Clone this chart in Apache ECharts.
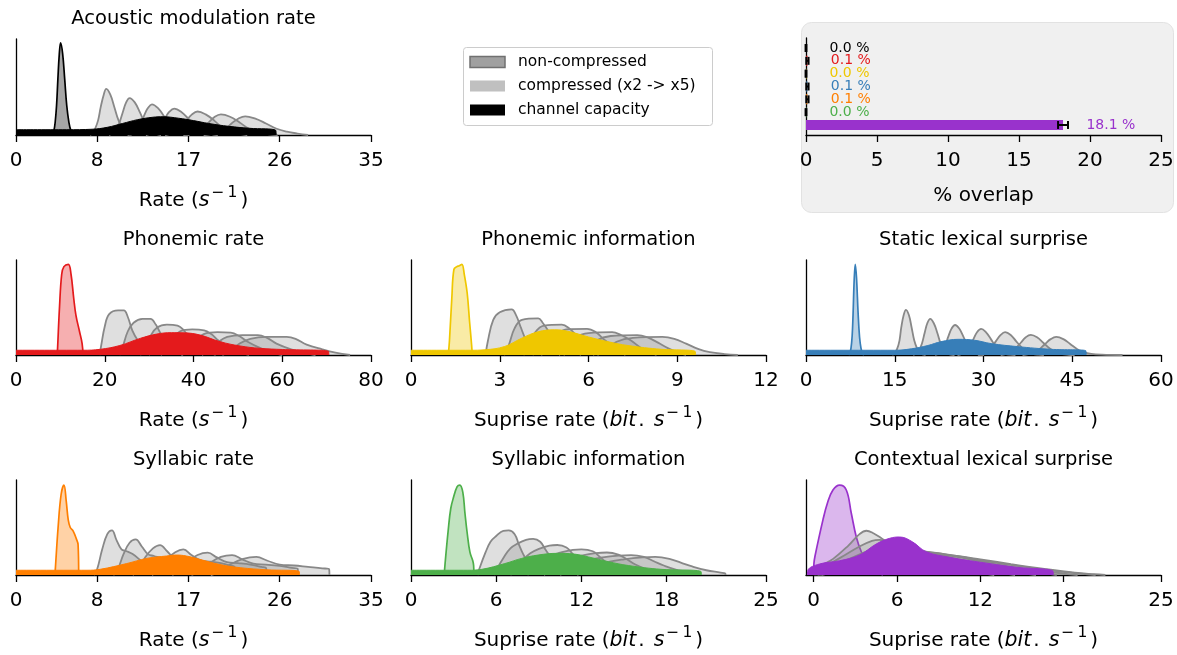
<!DOCTYPE html>
<html>
<head>
<meta charset="utf-8">
<script src="https://cdn.jsdelivr.net/npm/echarts@6/dist/echarts.min.js"></script>
<style>
html, body { margin: 0; padding: 0; background: #fff; }
#main { width: 1177px; height: 655px; }
</style>
</head>
<body>
<div id="main"></div>
<script>
// ---- data (x in axis units, y = density scaled to spine height) ----
// acoustic modulation rate
var acNon = [[3.45,0],[3.6,0.01],[3.73,0.04],[3.86,0.13],[4.0,0.31],[4.13,0.585],[4.27,0.845],[4.4,0.96],[4.6,0.845],[4.8,0.585],[5.0,0.31],[5.22,0.13],[5.43,0.04],[5.63,0.01],[5.8,0]];
var acComp = [
    [[7.3,0],[7.55,0.02],[7.8,0.065],[8.1,0.155],[8.35,0.29],[8.65,0.42],[8.9,0.48],[9.3,0.42],[9.7,0.29],[10.1,0.155],[10.55,0.065],[10.95,0.02],[11.4,0]],
    [[9.16,0],[9.5,0.017],[9.84,0.052],[10.18,0.123],[10.52,0.235],[10.86,0.34],[11.2,0.385],[11.71,0.34],[12.22,0.235],[12.73,0.123],[13.24,0.052],[13.75,0.017],[14.3,0]],
    [[11.0,0],[11.4,0.014],[11.8,0.043],[12.2,0.1],[12.6,0.195],[13.0,0.28],[13.4,0.32],[14.0,0.28],[14.6,0.195],[15.25,0.1],[15.85,0.043],[16.5,0.014],[17.1,0]],
    [[12.8,0],[13.2,0.012],[13.7,0.037],[14.2,0.086],[14.65,0.168],[15.1,0.24],[15.6,0.275],[16.3,0.24],[17.0,0.168],[17.75,0.086],[18.45,0.037],[19.2,0.012],[19.9,0]],
    [[14.7,0],[15.2,0.011],[15.75,0.033],[16.3,0.076],[16.8,0.15],[17.35,0.215],[17.9,0.245],[18.7,0.215],[19.55,0.15],[20.35,0.076],[21.2,0.033],[22.0,0.011],[22.8,0]],
    [[16.5,0],[17.15,0.009],[17.75,0.029],[18.35,0.067],[19.0,0.13],[19.6,0.19],[20.2,0.215],[21.1,0.19],[22.05,0.13],[22.95,0.067],[23.9,0.029],[24.8,0.009],[25.8,0]],
    [[18.5,0],[19.2,0.009],[19.9,0.026],[20.6,0.06],[21.25,0.12],[21.9,0.17],[22.6,0.195],[23.6,0.17],[24.65,0.12],[25.7,0.065],[26.7,0.035],[27.75,0.015],[28.8,0]]
];
var acCap = [[0,0.055],[5,0.055],[7.5,0.06],[9,0.08],[10.5,0.12],[12,0.16],[13.5,0.185],[14.5,0.19],[16,0.175],[17.5,0.15],[19,0.12],[21,0.09],[23,0.07],[25.6,0.05],[25.65,0]];
var acTicks = [0, 8, 17, 26, 35];

// phonemic rate
var prNon = [[9.3,0],[9.4,0.1],[9.8,0.5],[10.3,0.85],[10.8,0.93],[11.8,0.955],[12.4,0.85],[13,0.6],[13.5,0.42],[14.3,0.25],[14.9,0.12],[15.1,0]];
var prComp = [
    [[18.8,0],[19.2,0.1],[20,0.3],[21,0.43],[23,0.47],[24.3,0.47],[25.2,0.4],[26.2,0.26],[27.5,0.15],[29,0.07],[30.2,0]],
    [[23.3,0],[24,0.08],[25.2,0.25],[26.5,0.34],[28.5,0.38],[30.3,0.38],[31.5,0.32],[32.7,0.22],[34.5,0.12],[36,0.05],[37.7,0]],
    [[28,0],[29,0.07],[30.3,0.2],[31.8,0.29],[34,0.32],[36.4,0.31],[37.8,0.26],[39.2,0.18],[41.4,0.1],[43.2,0.04],[45,0]],
    [[32.6,0],[33.8,0.06],[35.3,0.17],[37,0.25],[39.7,0.27],[42.4,0.26],[44,0.22],[45.7,0.15],[48.3,0.08],[50.4,0.03],[52.5,0]],
    [[37.2,0],[38.6,0.05],[40.3,0.15],[42.3,0.22],[45.4,0.24],[48.4,0.235],[50.3,0.2],[52.2,0.14],[55.2,0.07],[57.6,0.03],[60,0]],
    [[41.9,0],[43.4,0.05],[45.4,0.13],[47.6,0.19],[51,0.21],[54.5,0.21],[56.6,0.18],[58.7,0.12],[62,0.06],[64.8,0.025],[67.5,0]],
    [[46.5,0],[48.2,0.04],[50.4,0.12],[52.8,0.17],[56.5,0.19],[61,0.19],[63,0.17],[65.5,0.11],[69,0.06],[72,0.025],[75.3,0]]
];
var prCap = [[0,0.05],[15,0.05],[19,0.06],[23.4,0.1],[28,0.175],[31.7,0.22],[35,0.235],[38,0.233],[41.5,0.21],[46,0.14],[50.5,0.095],[55,0.07],[60,0.058],[70.4,0.04],[70.5,0]];
var prTicks = [0, 20, 40, 60, 80];

// phonemic information
var piNon = [[1.26,0],[1.3,0.15],[1.38,0.6],[1.45,0.9],[1.55,0.93],[1.63,0.94],[1.72,0.955],[1.8,0.85],[1.9,0.65],[1.98,0.35],[2.05,0.1],[2.07,0]];
var piComp = [
    [[2.52,0],[2.6,0.15],[2.78,0.37],[3.0,0.45],[3.4,0.48],[3.55,0.42],[3.7,0.3],[3.85,0.18],[4.0,0.07],[4.15,0]],
    [[3.15,0],[3.3,0.1],[3.5,0.28],[3.75,0.37],[4.3,0.385],[4.45,0.34],[4.65,0.25],[4.85,0.14],[5.0,0.07],[5.2,0]],
    [[3.8,0],[3.95,0.08],[4.2,0.24],[4.5,0.31],[5.1,0.32],[5.35,0.28],[5.6,0.2],[5.85,0.11],[6.0,0.06],[6.2,0]],
    [[4.4,0],[4.6,0.07],[4.9,0.2],[5.25,0.27],[5.95,0.275],[6.25,0.24],[6.5,0.17],[6.8,0.1],[7.0,0.05],[7.25,0]],
    [[5.0,0],[5.2,0.06],[5.55,0.18],[6.0,0.23],[6.8,0.24],[7.1,0.21],[7.45,0.15],[7.75,0.08],[8.0,0.04],[8.3,0]],
    [[5.7,0],[5.9,0.05],[6.25,0.15],[6.75,0.2],[7.65,0.21],[8.0,0.185],[8.35,0.13],[8.7,0.07],[9.0,0.03],[9.3,0]],
    [[6.3,0],[6.55,0.05],[6.95,0.14],[7.5,0.18],[8.5,0.19],[8.9,0.17],[9.3,0.12],[9.7,0.065],[10.1,0.03],[10.6,0.01],[11.05,0]]
];
var piCap = [[0,0.05],[2,0.05],[2.5,0.055],[3.17,0.09],[3.73,0.175],[4.3,0.245],[4.86,0.265],[5.3,0.25],[6,0.19],[6.66,0.14],[7.33,0.1],[8.46,0.06],[9.6,0.04],[9.62,0]];
var piTicks = [0, 3, 6, 9, 12];

// static lexical surprise
var slNon = [[7.2,0],[7.4,0.02],[7.6,0.07],[7.8,0.2],[7.95,0.42],[8.15,0.8],[8.33,0.955],[8.55,0.8],[8.8,0.45],[9.05,0.19],[9.3,0.07],[9.55,0.015],[9.8,0]];
var slComp = [
    [[14.6,0],[15.0,0.021],[15.4,0.064],[15.8,0.152],[16.1,0.29],[16.5,0.418],[16.9,0.475],[17.4,0.418],[17.85,0.29],[18.3,0.152],[18.8,0.064],[19.25,0.021],[19.7,0.005],[20.2,0]],
    [[18.1,0],[18.6,0.017],[19.1,0.051],[19.6,0.122],[20.05,0.232],[20.5,0.334],[21.0,0.38],[21.6,0.334],[22.2,0.232],[22.75,0.122],[23.35,0.051],[23.95,0.017],[24.5,0.004],[25.1,0]],
    [[21.8,0],[22.35,0.014],[22.9,0.043],[23.5,0.1],[24.05,0.193],[24.6,0.278],[25.2,0.316],[25.9,0.278],[26.6,0.193],[27.3,0.1],[28.0,0.043],[28.7,0.014],[29.4,0.003],[30.1,0]],
    [[25.6,0],[26.3,0.012],[26.95,0.037],[27.6,0.087],[28.3,0.167],[28.9,0.24],[29.6,0.274],[30.4,0.24],[31.25,0.167],[32.1,0.087],[32.9,0.037],[33.7,0.012],[34.55,0.003],[35.4,0]],
    [[29.1,0],[29.85,0.011],[30.6,0.032],[31.4,0.077],[32.1,0.146],[32.9,0.211],[33.65,0.24],[34.6,0.211],[35.5,0.146],[36.5,0.077],[37.4,0.032],[38.35,0.011],[39.3,0.003],[40.2,0]],
    [[32.9,0],[33.7,0.009],[34.6,0.029],[35.4,0.068],[36.3,0.129],[37.15,0.187],[38.0,0.212],[39.05,0.187],[40.1,0.129],[41.2,0.068],[42.25,0.029],[43.3,0.009],[44.4,0.002],[45.4,0]],
    [[36.6,0],[37.55,0.008],[38.5,0.026],[39.45,0.061],[40.4,0.116],[41.35,0.167],[42.3,0.19],[43.5,0.167],[44.65,0.116],[45.85,0.061],[47.0,0.028],[48.2,0.012],[50.0,0.004],[53.5,0]]
];
var slCap = [[0,0.05],[15,0.05],[17.8,0.065],[20.6,0.1],[22.8,0.14],[25.7,0.165],[28.5,0.155],[31.3,0.12],[35.8,0.088],[41.4,0.06],[47.3,0.045],[47.35,0]];
var slTicks = [0, 15, 30, 45, 60];

// syllabic rate
var srNon = [[3.84,0],[3.9,0.1],[4.15,0.5],[4.45,0.85],[4.73,0.947],[4.95,0.78],[5.15,0.58],[5.35,0.5],[5.65,0.46],[5.95,0.38],[6.12,0.32],[6.18,0]];
var srComp = [
    [[7.7,0],[8.0,0.06],[8.5,0.27],[9.0,0.43],[9.46,0.47],[9.9,0.37],[10.4,0.27],[10.9,0.25],[11.5,0.22],[12.1,0.17],[12.33,0.14],[12.36,0]],
    [[9.6,0],[10,0.05],[10.6,0.22],[11.2,0.34],[11.8,0.375],[12.4,0.3],[13,0.22],[13.6,0.2],[14.4,0.175],[15.1,0.14],[15.42,0.11],[15.45,0]],
    [[11.5,0],[12,0.05],[12.7,0.18],[13.5,0.28],[14.2,0.315],[14.9,0.25],[15.6,0.18],[16.4,0.165],[17.3,0.145],[18.1,0.115],[18.51,0.09],[18.54,0]],
    [[13.4,0],[14,0.04],[14.8,0.16],[15.7,0.24],[16.5,0.27],[17.3,0.21],[18.2,0.155],[19.2,0.14],[20.2,0.125],[21.1,0.1],[21.57,0.08],[21.6,0]],
    [[15.4,0],[16,0.04],[16.9,0.14],[17.9,0.21],[18.9,0.235],[19.8,0.185],[20.8,0.135],[21.9,0.125],[23.1,0.11],[24.2,0.085],[24.67,0.07],[24.7,0]],
    [[17.3,0],[18,0.035],[19,0.12],[20.2,0.19],[21.3,0.21],[22.3,0.165],[23.4,0.12],[24.6,0.11],[26,0.095],[27.2,0.075],[27.77,0.065],[27.8,0]],
    [[19.2,0],[20,0.03],[21.1,0.11],[22.4,0.17],[23.7,0.19],[24.8,0.15],[26,0.11],[27.4,0.1],[28.8,0.085],[30.2,0.07],[30.87,0.06],[30.9,0]]
];
var srCap = [[0,0.05],[7,0.05],[8.3,0.06],[10.9,0.12],[12.9,0.175],[14.85,0.2],[15.8,0.21],[16.8,0.2],[18.1,0.165],[20.1,0.11],[22.1,0.077],[24.7,0.055],[27.9,0.04],[27.95,0]];
var srTicks = [0, 8, 17, 26, 35];

// syllabic information
var siNon = [[2.34,0],[2.4,0.12],[2.62,0.47],[2.8,0.7],[3.0,0.82],[3.25,0.93],[3.44,0.947],[3.65,0.87],[3.8,0.65],[3.95,0.45],[4.15,0.24],[4.35,0.15],[4.41,0.1],[4.43,0]];
var siComp = [
    [[4.68,0],[4.8,0.06],[5.24,0.235],[5.6,0.35],[6.0,0.41],[6.5,0.465],[6.88,0.47],[7.3,0.43],[7.6,0.32],[7.9,0.22],[8.3,0.12],[8.7,0.07],[8.84,0.05],[8.86,0]],
    [[5.85,0],[6,0.05],[6.55,0.19],[7,0.28],[7.5,0.33],[8.1,0.37],[8.6,0.38],[9.1,0.35],[9.5,0.26],[9.9,0.18],[10.4,0.1],[10.9,0.06],[11.08,0.04],[11.1,0]],
    [[7.0,0],[7.2,0.04],[7.9,0.16],[8.4,0.23],[9,0.275],[9.75,0.31],[10.3,0.316],[10.95,0.29],[11.4,0.22],[11.85,0.15],[12.45,0.08],[13.05,0.05],[13.28,0.035],[13.3,0]],
    [[8.2,0],[8.4,0.035],[9.2,0.135],[9.8,0.2],[10.5,0.235],[11.4,0.265],[12.0,0.27],[12.8,0.25],[13.3,0.19],[13.8,0.13],[14.5,0.07],[15.2,0.04],[15.48,0.03],[15.5,0]],
    [[9.36,0],[9.6,0.03],[10.5,0.12],[11.2,0.175],[12,0.205],[13,0.23],[13.8,0.237],[14.6,0.215],[15.2,0.165],[15.8,0.11],[16.6,0.06],[17.4,0.035],[17.68,0.025],[17.7,0]],
    [[10.5,0],[10.8,0.03],[11.8,0.105],[12.6,0.155],[13.5,0.185],[14.6,0.205],[15.5,0.21],[16.4,0.19],[17.1,0.145],[17.8,0.1],[18.7,0.055],[19.6,0.03],[19.88,0.02],[19.9,0]],
    [[11.7,0],[12,0.025],[13.1,0.095],[14,0.14],[15,0.165],[16.3,0.185],[17.2,0.19],[18.2,0.17],[19,0.13],[19.8,0.09],[20.8,0.05],[21.8,0.025],[22.13,0.015],[22.15,0]]
];
var siCap = [[0,0.05],[4,0.05],[5,0.06],[6.6,0.12],[7.8,0.175],[8.95,0.21],[10.3,0.228],[11.5,0.22],[12.5,0.19],[13.9,0.14],[15.3,0.1],[17.6,0.06],[20.4,0.04],[20.45,0]];
var siTicks = [0, 6, 12, 18, 25];

// contextual lexical surprise
var clNon = [[0,0],[0.02,0.12],[0.1,0.2],[0.67,0.58],[1.0,0.76],[1.39,0.895],[1.87,0.947],[2.35,0.895],[2.71,0.65],[3.07,0.4],[3.43,0.245],[3.9,0.12],[4.4,0.04],[5,0]];
var clComp = [
    [[0,0],[0.4,0.08],[1.4,0.17],[2.5,0.31],[3.3,0.43],[3.8,0.466],[4.3,0.44],[4.9,0.385],[5.8,0.3],[7,0.2],[8.5,0.12],[10,0.06],[12,0.02],[13,0]],
    [[0.1,0],[0.6,0.07],[1.9,0.18],[3.3,0.3],[4.2,0.36],[4.75,0.37],[5.4,0.35],[6.2,0.3],[7.3,0.22],[8.8,0.15],[10.6,0.09],[12.6,0.04],[14.5,0]],
    [[0.2,0],[0.8,0.06],[2.4,0.16],[4,0.26],[5,0.31],[5.6,0.32],[6.4,0.3],[7.3,0.26],[8.6,0.2],[10.3,0.13],[12.5,0.07],[14.5,0.03],[16,0]],
    [[0.3,0],[1,0.05],[2.8,0.14],[4.6,0.23],[5.8,0.27],[6.5,0.28],[7.4,0.265],[8.5,0.23],[10,0.18],[12,0.115],[14.5,0.055],[16.5,0.02],[17.5,0]],
    [[0.4,0],[1.2,0.045],[3.2,0.12],[5.2,0.2],[6.6,0.24],[7.4,0.25],[8.4,0.24],[9.7,0.21],[11.4,0.16],[13.6,0.1],[16,0.05],[18,0.015],[19,0]],
    [[0.5,0],[1.4,0.04],[3.6,0.11],[5.8,0.18],[7.4,0.225],[8.3,0.235],[9.4,0.22],[10.9,0.185],[12.8,0.135],[15.2,0.085],[17.5,0.04],[19.4,0.012],[20.3,0]],
    [[0.6,0],[1.6,0.035],[4,0.1],[6.4,0.165],[8.1,0.2],[9.1,0.21],[10.3,0.2],[12,0.165],[14.2,0.115],[16.6,0.065],[18.8,0.025],[20.2,0.008],[21,0]]
];
var clCap = [[-0.45,0],[-0.42,0.05],[0.43,0.116],[1.87,0.15],[3.3,0.21],[4.5,0.326],[5.47,0.386],[6.19,0.4],[7.1,0.35],[8.1,0.245],[9.8,0.186],[12.2,0.13],[14.7,0.08],[17.2,0.045],[17.25,0]];
var clTicks = [0, 6, 12, 18, 25];

// % overlap (top right)
var overlapVals = [0.0, 0.1, 0.0, 0.1, 0.1, 0.0, 18.1];
var overlapErr = [0.03, 0.08, 0.03, 0.08, 0.08, 0.03, 0.35];
var overlapTicks = [0, 5, 10, 15, 20, 25];

var legendLabels = ['non-compressed', 'compressed (x2 -> x5)', 'channel capacity'];

// ---- chart ----
var FONT = 'DejaVu Sans';
var rateName = 'Rate ({i|s}{sup|\u2212\u20091})';
var surpName = 'Suprise rate ({i|bit}{d|.}{i|s}{sup|\u2212\u20091})';
var nameRich = {
    i: { fontStyle: 'italic', fontSize: 20.5, fontFamily: FONT, color: '#000', padding: [0, 1, 0, 0] },
    d: { fontSize: 20, fontFamily: FONT, color: '#000', padding: [0, 9, 0, 1] },
    sup: { fontSize: 15.5, fontFamily: FONT, color: '#000', padding: [0, 3, 15, 1] }
};

var panels = [
    { title: 'Acoustic modulation rate', color: '#000000', non: acNon, comp: acComp, cap: acCap, ticks: acTicks, min: 0, max: 35, name: rateName, left: 16, top: 39, height: 96 },
    { title: 'Phonemic rate', color: '#e41a1c', non: prNon, comp: prComp, cap: prCap, ticks: prTicks, min: 0, max: 80, name: rateName, left: 16, top: 260, height: 95 },
    { title: 'Phonemic information', color: '#efc700', non: piNon, comp: piComp, cap: piCap, ticks: piTicks, min: 0, max: 12, name: surpName, left: 411, top: 260, height: 95 },
    { title: 'Static lexical surprise', color: '#377eb8', non: slNon, comp: slComp, cap: slCap, ticks: slTicks, min: 0, max: 60, name: surpName, left: 806, top: 260, height: 95 },
    { title: 'Syllabic rate', color: '#ff7f00', non: srNon, comp: srComp, cap: srCap, ticks: srTicks, min: 0, max: 35, name: rateName, left: 16, top: 480, height: 95 },
    { title: 'Syllabic information', color: '#4daf4a', non: siNon, comp: siComp, cap: siCap, ticks: siTicks, min: 0, max: 25, name: surpName, left: 411, top: 480, height: 95 },
    { title: 'Contextual lexical surprise', color: '#9932cc', non: clNon, comp: clComp, cap: clCap, ticks: clTicks, min: -0.55, max: 25, name: surpName, left: 806, top: 480, height: 95 }
];
var rowColors = panels.map(function (p) { return p.color; });

var grids = [], xAxes = [], yAxes = [], series = [], titles = [];

function xAxisFor(k, min, max, ticks, name) {
    return {
        type: 'value', gridIndex: k, min: min, max: max,
        axisLine: { show: true, onZero: false, lineStyle: { color: '#000', width: 1.3 } },
        axisTick: { show: true, length: 7, customValues: ticks, lineStyle: { color: '#000', width: 1.3 } },
        axisLabel: { customValues: ticks, fontSize: 20, color: '#000', fontFamily: FONT, margin: 16 },
        splitLine: { show: false },
        name: name, nameLocation: 'middle', nameGap: 50,
        nameTextStyle: { fontSize: 20, color: '#000', fontFamily: FONT, rich: nameRich }
    };
}

panels.forEach(function (p, k) {
    grids.push({ left: p.left, top: p.top, width: 355, height: p.height });
    xAxes.push(xAxisFor(k, p.min, p.max, p.ticks, p.name));
    yAxes.push({
        type: 'value', gridIndex: k, min: 0, max: 1,
        axisLine: { show: true, onZero: false, lineStyle: { color: '#000', width: 1.3 } },
        axisTick: { show: false }, axisLabel: { show: false }, splitLine: { show: false }
    });
    titles.push({
        text: p.title, left: p.left + 177.5, top: p.top - 20,
        textAlign: 'center', textVerticalAlign: 'middle', padding: 0,
        textStyle: { fontSize: 19.5, fontWeight: 'normal', color: '#000', fontFamily: FONT }
    });
    var base = { type: 'line', xAxisIndex: k, yAxisIndex: k, smooth: 0.4,
        showSymbol: false, symbol: 'none', silent: true, animation: false };
    series.push(Object.assign({}, base, {
        data: p.non, z: 2,
        lineStyle: { color: p.color, width: 1.7 },
        areaStyle: { color: p.color, opacity: 0.35 }
    }));
    p.comp.forEach(function (c) {
        series.push(Object.assign({}, base, {
            data: c, z: 3,
            lineStyle: { color: '#888888', width: 1.8 },
            areaStyle: { color: '#808080', opacity: 0.25 }
        }));
    });
    series.push(Object.assign({}, base, {
        data: p.cap, z: 4,
        lineStyle: { color: p.color, width: 1 },
        areaStyle: { color: p.color, opacity: 1 }
    }));
});

// overlap panel
var kb = panels.length;
grids.push({ left: 806, top: 38, width: 355, height: 97 });
xAxes.push(Object.assign(xAxisFor(kb, 0, 25, overlapTicks, '% overlap'), { nameGap: 51 }));
yAxes.push({
    type: 'value', gridIndex: kb, min: -0.78, max: 6.78, inverse: true,
    axisLine: { show: true, onZero: false, lineStyle: { color: '#000', width: 1.3 } },
    axisTick: { show: false }, axisLabel: { show: false }, splitLine: { show: false }
});
series.push({
    type: 'custom', xAxisIndex: kb, yAxisIndex: kb, silent: true, animation: false, z: 5,
    data: overlapVals.map(function (v, i) { return [v, i, overlapErr[i]]; }),
    encode: { x: 0, y: 1 },
    renderItem: function (params, api) {
        var v = api.value(0), i = api.value(1), e = api.value(2);
        var p0 = api.coord([0, i]);
        var p1 = api.coord([v, i]);
        var bh = api.size([0, 0.78])[1];
        var ch = api.size([0, 0.62])[1];
        var lo = api.coord([v - e, i]);
        var hi = api.coord([v + e, i]);
        var lab = api.coord([v + 1.65, i]);
        var c = rowColors[i];
        return {
            type: 'group',
            children: [
                { type: 'rect', shape: { x: p0[0], y: p0[1] - bh / 2, width: Math.max(p1[0] - p0[0], 0.5), height: bh }, style: { fill: c } },
                { type: 'line', shape: { x1: lo[0], y1: lo[1], x2: hi[0], y2: hi[1] }, style: { stroke: '#000', lineWidth: 2 } },
                { type: 'line', shape: { x1: lo[0], y1: lo[1] - ch / 2, x2: lo[0], y2: lo[1] + ch / 2 }, style: { stroke: '#000', lineWidth: 2 } },
                { type: 'line', shape: { x1: hi[0], y1: hi[1] - ch / 2, x2: hi[0], y2: hi[1] + ch / 2 }, style: { stroke: '#000', lineWidth: 2 } },
                { type: 'text', x: lab[0], y: lab[1], style: { text: v.toFixed(1) + ' %', fill: c, fontSize: 14, fontFamily: FONT, align: 'left', verticalAlign: 'middle' } }
            ]
        };
    }
});

// legend box + grey background of the overlap panel
var legendFills = [
    { fill: '#a0a0a0', stroke: '#707070', lineWidth: 1.5 },
    { fill: '#c0c0c0', stroke: null, lineWidth: 0 },
    { fill: '#000000', stroke: null, lineWidth: 0 }
];
var graphics = [
    { type: 'rect', z: -10, shape: { x: 801.5, y: 22.5, width: 372, height: 190, r: 10 }, style: { fill: '#f0f0f0', stroke: '#e2e2e2', lineWidth: 1 } },
    { type: 'rect', z: 10, shape: { x: 463.5, y: 47.5, width: 249, height: 78, r: 3 }, style: { fill: '#ffffff', stroke: '#cccccc', lineWidth: 1 } }
];
legendLabels.forEach(function (t, i) {
    var cy = 62 + i * 24;
    graphics.push({ type: 'rect', z: 11, shape: { x: 470, y: cy - 5.5, width: 35, height: 11 }, style: legendFills[i] });
    graphics.push({ type: 'text', z: 11, x: 518, y: cy, style: { text: t, fill: '#000', fontSize: 15.5, fontFamily: FONT, align: 'left', verticalAlign: 'middle' } });
});

var chart = echarts.init(document.getElementById('main'), null, { renderer: 'canvas' });
var option = {
    backgroundColor: '#ffffff',
    animation: false,
    title: titles,
    grid: grids,
    xAxis: xAxes,
    yAxis: yAxes,
    series: series,
    graphic: graphics
};
chart.setOption(option);
window.addEventListener('resize', chart.resize);
</script>
</body>
</html>
